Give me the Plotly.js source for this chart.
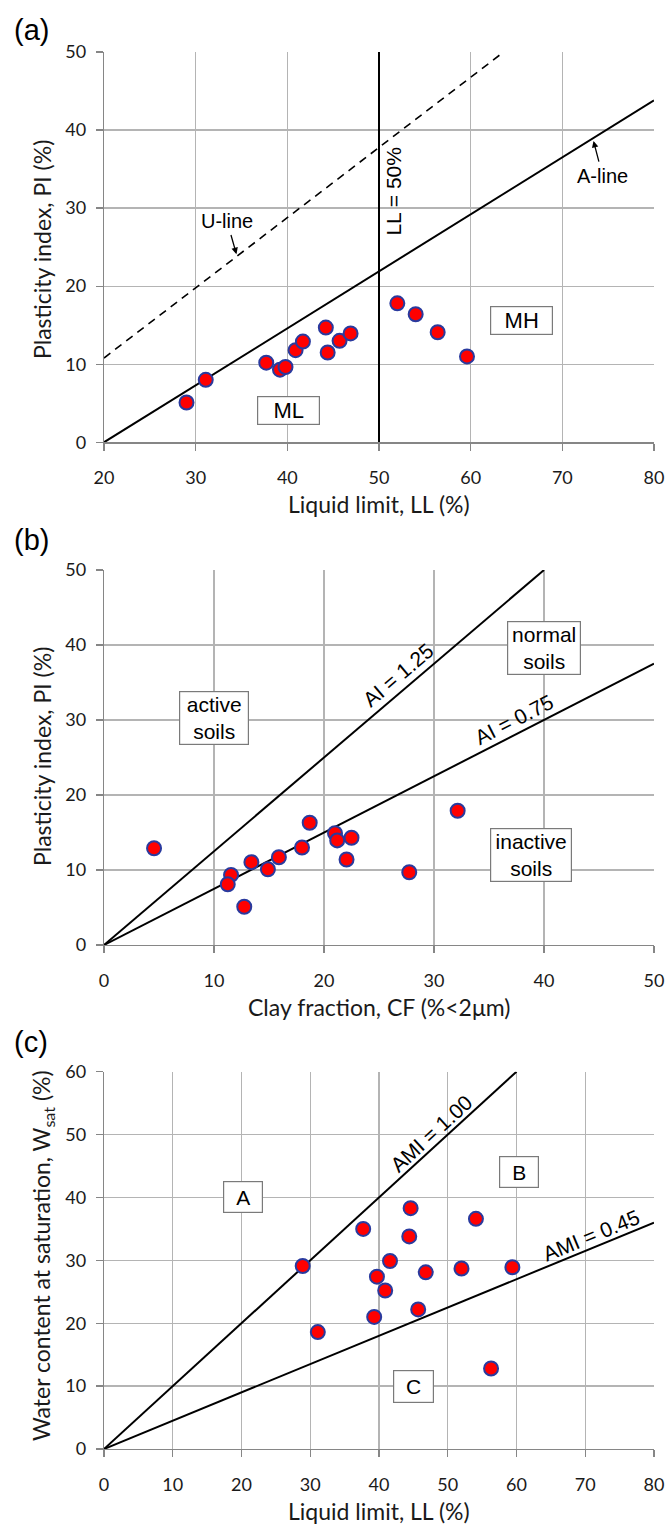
<!DOCTYPE html>
<html>
<head>
<meta charset="utf-8">
<script src="https://cdn.plot.ly/plotly-3.0.1.min.js"></script>
<style>html,body{margin:0;padding:0;background:#fff;}</style>
</head>
<body>
<div id="chart" style="width:666px;height:1525px;"></div>
<script>
// ---------- Data ----------
// Panel (a): Casagrande plasticity chart
const llA = [29.0, 31.1, 37.7, 39.2, 39.8, 40.9, 41.7, 44.2, 44.4, 45.7, 46.9, 52.0, 54.0, 56.4, 59.6];
const piA = [5.1, 8.0, 10.2, 9.3, 9.65, 11.8, 12.9, 14.7, 11.5, 13.0, 13.95, 17.8, 16.4, 14.1, 11.0];
const aLineLL = [20, 80];
const aLinePI = [0, 43.8];
const uLineLL = [20, 63.6];
const uLinePI = [10.8, 50];
const ll50X = [50, 50];
const ll50Y = [0, 50];

// Panel (b): activity chart
const cfB = [4.55, 11.55, 11.25, 12.75, 13.4, 14.9, 15.9, 18.0, 18.7, 21.0, 21.2, 22.5, 22.05, 27.75, 32.15];
const piB = [12.9, 9.35, 8.1, 5.1, 11.05, 10.1, 11.7, 13.0, 16.3, 14.9, 13.95, 14.3, 11.4, 9.7, 17.9];
const ai125CF = [0, 40];
const ai125PI = [0, 50];
const ai075CF = [0, 50];
const ai075PI = [0, 37.5];

// Panel (c): water content at saturation
const llC = [28.9, 31.1, 37.7, 39.3, 39.7, 40.9, 41.6, 44.4, 44.6, 45.7, 46.8, 52.0, 54.1, 56.3, 59.4];
const wC = [29.1, 18.6, 35.0, 21.0, 27.4, 25.2, 29.9, 33.8, 38.3, 22.2, 28.1, 28.7, 36.6, 12.8, 28.9];
const ami100LL = [0, 60];
const ami100W = [0, 60];
const ami045LL = [0, 80];
const ami045W = [0, 36];

// Tick values
const ticksA_x = [20, 30, 40, 50, 60, 70, 80];
const ticksA_y = [0, 10, 20, 30, 40, 50];
const ticksB_x = [0, 10, 20, 30, 40, 50];
const ticksB_y = [0, 10, 20, 30, 40, 50];
const ticksC_x = [0, 10, 20, 30, 40, 50, 60, 70, 80];
const ticksC_y = [0, 10, 20, 30, 40, 50, 60];

// ---------- Layout helpers ----------
const W = 666, H = 1525, ML = 104, MR = 12, MT = 52, MB = 76;
const PW = W - ML - MR, PH = H - MT - MB;
const px = x => (x - ML) / PW;
const py = y => (H - MB - y) / PH;

const tickFont = {family: 'Lato, sans-serif', size: 18, color: '#1a1a1a'};
const titleFont = {family: 'Lato, sans-serif', size: 23, color: '#1a1a1a'};
const lblFont = {family: 'Liberation Sans, Arial, sans-serif', size: 21, color: '#000'};
const smallLbl = {family: 'Liberation Sans, Arial, sans-serif', size: 20, color: '#000'};

function axis(extra) {
  return Object.assign({
    showgrid: true, gridcolor: '#b4b4b4', gridwidth: 1.3,
    showline: true, linecolor: '#868686', linewidth: 1.3,
    ticks: 'outside', ticklen: 7, tickcolor: '#868686', tickwidth: 1.3,
    tickfont: tickFont, zeroline: false, tickmode: 'array'
  }, extra);
}

const markerStyle = {size: 14, color: '#ff0000', line: {color: '#2a3a9e', width: 2}};
const blackLine = {color: '#000', width: 2};

const traces = [
  {x: aLineLL, y: aLinePI, mode: 'lines', line: blackLine, xaxis: 'x', yaxis: 'y', hoverinfo: 'skip'},
  {x: uLineLL, y: uLinePI, mode: 'lines', line: {color: '#000', width: 1.6, dash: '8px,6px'}, xaxis: 'x', yaxis: 'y', hoverinfo: 'skip'},
  {x: ll50X, y: ll50Y, mode: 'lines', line: blackLine, xaxis: 'x', yaxis: 'y', hoverinfo: 'skip'},
  {x: llA, y: piA, mode: 'markers', marker: markerStyle, xaxis: 'x', yaxis: 'y'},

  {x: ai125CF, y: ai125PI, mode: 'lines', line: blackLine, xaxis: 'x2', yaxis: 'y2', hoverinfo: 'skip'},
  {x: ai075CF, y: ai075PI, mode: 'lines', line: blackLine, xaxis: 'x2', yaxis: 'y2', hoverinfo: 'skip'},
  {x: cfB, y: piB, mode: 'markers', marker: markerStyle, xaxis: 'x2', yaxis: 'y2'},

  {x: ami100LL, y: ami100W, mode: 'lines', line: blackLine, xaxis: 'x3', yaxis: 'y3', hoverinfo: 'skip'},
  {x: ami045LL, y: ami045W, mode: 'lines', line: blackLine, xaxis: 'x3', yaxis: 'y3', hoverinfo: 'skip'},
  {x: llC, y: wC, mode: 'markers', marker: markerStyle, xaxis: 'x3', yaxis: 'y3'}
];

function txt(text, x, y, ref, opts) {
  return Object.assign({text: text, x: x, y: y, xref: 'x' + ref, yref: 'y' + ref,
    showarrow: false, font: lblFont, xanchor: 'center', yanchor: 'middle'}, opts || {});
}
function box(text, x, y, ref, w, h, opts) {
  return txt(text, x, y, ref, Object.assign({bordercolor: '#7a7a7a', borderwidth: 1.2,
    bgcolor: '#fff', width: w, height: h, borderpad: 0}, opts || {}));
}
// label with a pointer arrow: text centred at (tx, ty), arrow tip at (x, y)
function pointer(text, tx, ty, x, y, ref) {
  return {text: text, x: x, y: y, ax: tx, ay: ty, xref: 'x' + ref, yref: 'y' + ref,
    axref: 'x' + ref, ayref: 'y' + ref, showarrow: true, arrowhead: 2, arrowsize: 1,
    arrowwidth: 1.3, arrowcolor: '#000', standoff: 0, startstandoff: 2, font: smallLbl};
}
function paperText(text, xPix, yPix, font, opts) {
  return Object.assign({text: text, x: px(xPix), y: py(yPix), xref: 'paper', yref: 'paper',
    showarrow: false, font: font, xanchor: 'center', yanchor: 'middle'}, opts || {});
}

const panelFont = {family: 'Liberation Sans, Arial, sans-serif', size: 29, color: '#000'};

const annotations = [
  // panel labels
  paperText('(a)', 31, 30, panelFont),
  paperText('(b)', 31, 540, panelFont),
  paperText('(c)', 31, 1042, panelFont),
  // axis titles
  paperText('Liquid limit, LL (%)', 379, 504, titleFont),
  paperText('Plasticity index, PI (%)', 42, 250, titleFont, {textangle: -90}),
  paperText('Clay fraction, CF (%<2μm)', 379, 1007, titleFont),
  paperText('Plasticity index, PI (%)', 42, 757, titleFont, {textangle: -90}),
  paperText('Liquid limit, LL (%)', 379, 1511, titleFont),
  paperText('Water content at saturation, W<sub>sat</sub> (%)', 42, 1256, titleFont, {textangle: -90}),

  // panel (a)
  pointer('U-line', 33.4, 28.4, 34.45, 24.1, ''),
  pointer('A-line', 74.4, 34.1, 73.4, 38.6, ''),
  txt('LL = 50%', 51.6, 32.2, '', {textangle: -90}),
  box('ML', 40.1, 4.1, '', 61, 27, {font: Object.assign({}, lblFont, {size: 22})}),
  box('MH', 65.5, 15.6, '', 61, 27, {font: Object.assign({}, lblFont, {size: 22})}),

  // panel (b)
  box('active<br>soils', 10.0, 30.2, '2', 68, 52),
  box('normal<br>soils', 40.0, 39.6, '2', 72, 52),
  box('inactive<br>soils', 38.8, 12.0, '2', 80, 52),
  txt('AI = 1.25', 26.8, 36.0, '2', {textangle: -40.4}),
  txt('AI = 0.75', 37.3, 30.0, '2', {textangle: -27.1}),

  // panel (c)
  box('A', 20.2, 40.0, '3', 38, 30),
  box('B', 60.3, 44.1, '3', 38, 30),
  box('C', 45.05, 10.0, '3', 39, 31),
  txt('AMI = 1.00', 47.6, 50.2, '3', {textangle: -42.5}),
  txt('AMI = 0.45', 70.8, 34.0, '3', {textangle: -22.4})
];

const layout = {
  width: W, height: H,
  margin: {l: ML, r: MR, t: MT, b: MB, pad: 0},
  showlegend: false,
  paper_bgcolor: '#fff', plot_bgcolor: '#fff',
  xaxis: axis({range: [20, 80], tickvals: ticksA_x, domain: [0, 1], anchor: 'y', ticklabelstandoff: 12}),
  yaxis: axis({range: [0, 50], tickvals: ticksA_y, domain: [py(442.3), 1], anchor: 'x', ticklabelstandoff: 6}),
  xaxis2: axis({range: [0, 50], tickvals: ticksB_x, domain: [0, 1], anchor: 'y2', ticklabelstandoff: 12}),
  yaxis2: axis({range: [0, 50], tickvals: ticksB_y, domain: [py(945), py(570)], anchor: 'x2', ticklabelstandoff: 6}),
  xaxis3: axis({range: [0, 80], tickvals: ticksC_x, domain: [0, 1], anchor: 'y3', ticklabelstandoff: 12}),
  yaxis3: axis({range: [0, 60], tickvals: ticksC_y, domain: [0, py(1071.7)], anchor: 'x3', ticklabelstandoff: 6}),
  annotations: annotations
};

Plotly.newPlot('chart', traces, layout, {staticPlot: true, displayModeBar: false});
</script>
</body>
</html>
